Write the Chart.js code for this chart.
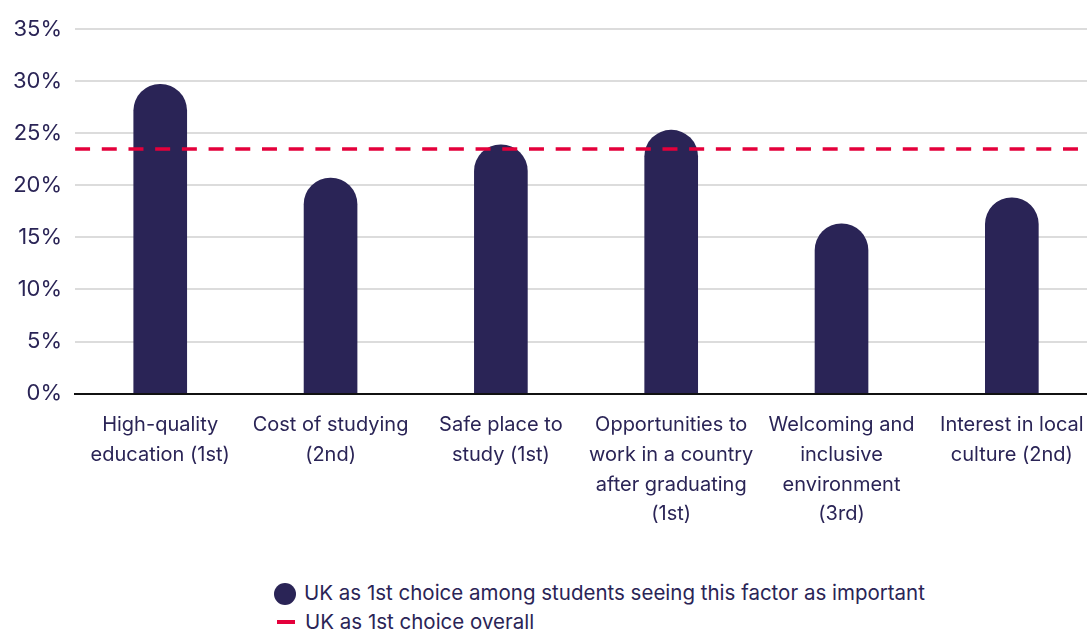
<!DOCTYPE html>
<html>
<head>
<meta charset="utf-8">
<script src="https://cdn.jsdelivr.net/npm/chart.js@4/dist/chart.umd.min.js"></script>
<style>
  html, body { margin: 0; padding: 0; background: #fff; overflow: hidden; }
  #wrap { position: relative; width: 1087px; height: 631px; overflow: hidden; }
  #box { position: absolute; left: 0; top: 3px; width: 1100px; height: 535px; }
  .legend { position: absolute; left: 274px; font-family: Inter, sans-serif; font-size: 20.5px; color: #2a2456; }
  .legend div { height: 29px; line-height: 29px; white-space: nowrap; }
  .dot { display: inline-block; width: 22px; height: 22px; border-radius: 50%; background: #2a2456; vertical-align: -5px; margin-right: 8px; }
  .dash { display: inline-block; width: 18px; height: 4px; background: #e4003b; vertical-align: 5px; margin: 0 10px 0 3px; }
</style>
</head>
<body>
<div id="wrap">
  <div id="box"><canvas id="myChart"></canvas></div>
  <div class="legend" style="top:578px">
    <div><span class="dot"></span><span id="lab0"></span></div>
    <div><span class="dash"></span><span id="lab1"></span></div>
  </div>
</div>
<script>
var categories = [
    ["High-quality", "education (1st)"],
    ["Cost of studying", "(2nd)"],
    ["Safe place to", "study (1st)"],
    ["Opportunities to", "work in a country", "after graduating", "(1st)"],
    ["Welcoming and", "inclusive", "environment", "(3rd)"],
    ["Interest in local", "culture (2nd)"]
];
var factorShare = [29.7, 20.7, 23.9, 25.3, 16.3, 18.8];
var overallShare = 23.5;
var seriesNames = ["UK as 1st choice among students seeing this factor as important", "UK as 1st choice overall"];
var yTicks = [0, 5, 10, 15, 20, 25, 30, 35];

var navy = '#2a2456';
var red = '#e4003b';

document.getElementById("lab0").textContent = seriesNames[0];
document.getElementById("lab1").textContent = seriesNames[1];

new Chart(document.getElementById("myChart"), {
    type: 'bar',
    data: {
        labels: categories,
        datasets: [{
            label: seriesNames[0],
            data: factorShare,
            backgroundColor: navy,
            barThickness: 53,
            grouped: false,
            borderRadius: 30,
            borderSkipped: 'start',
            order: 2
        }, {
            type: 'line',
            label: seriesNames[1],
            // spans the whole plot on a hidden 0..1 axis
            data: [{x: 0, y: overallShare}, {x: 1, y: overallShare}],
            xAxisID: 'xLine',
            borderColor: red,
            borderWidth: 3.5,
            borderDash: [15, 11.7],
            pointRadius: 0,
            fill: false,
            order: 1
        }]
    },
    options: {
        responsive: true,
        maintainAspectRatio: false,
        animation: false,
        layout: { padding: { top: 20, left: 0, right: 3, bottom: 0 } },
        plugins: {
            legend: { display: false },
            tooltip: { enabled: false }
        },
        scales: {
            x: {
                grid: { display: false },
                border: { display: true, color: '#111', width: 2 },
                ticks: {
                    color: navy,
                    font: { family: 'Inter', size: 20, lineHeight: 1.48 },
                    padding: 9,
                    maxRotation: 0,
                    autoSkip: false
                }
            },
            xLine: {
                type: 'linear',
                min: 0,
                max: 1,
                offset: false,
                display: false
            },
            y: {
                min: 0,
                max: 35,
                afterBuildTicks: function(axis) {
                    axis.ticks = yTicks.map(function(v) { return {value: v}; });
                },
                border: { display: false },
                grid: { color: '#dcdcdc', lineWidth: 2, drawTicks: false },
                ticks: {
                    color: navy,
                    font: { family: 'Inter', size: 22 },
                    padding: 13,
                    callback: function(v) { return v + '%'; }
                }
            }
        }
    }
});
</script>
</body>
</html>
